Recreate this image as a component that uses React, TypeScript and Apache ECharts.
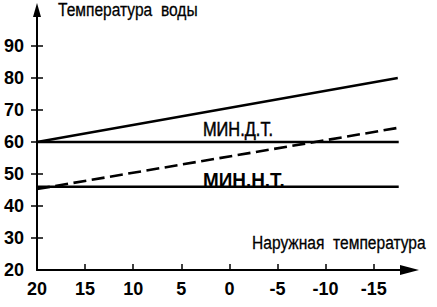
import React, { useEffect, useRef } from "react";
import * as echarts from "echarts";

const xTicks = [20, 15, 10, 5, 0, -5, -10, -15];
const yTicks = [20, 30, 40, 50, 60, 70, 80, 90];
const supplyLine = [[20, 60], [-17.5, 80]];
const dashedLine = [[20, 45.3], [-17.5, 64.4]];
const minDT = [[20, 60], [-17.6, 60]];
const minNT = [[20, 46], [-17.6, 46]];
const labelNames = ["МИН.Д.Т.", "МИН.Н.Т."];
const labelAnchors = [[2.75, 64.2], [2.75, 48.2]];
const yTitle = "Температура  воды";
const xTitle = "Наружная  температура";

const sans = "'Liberation Sans', Arial, sans-serif";
const NARROW = 0.82;

export default function App() {
  const ref = useRef<HTMLDivElement>(null);
  useEffect(() => {
    if (!ref.current) return;
    const chart = echarts.init(ref.current, undefined, { renderer: "svg" });
    chart.setOption({
      animation: false,
      backgroundColor: "#fff",
      grid: { left: 37, right: 27.5, top: 10, bottom: 37 },
      xAxis: {
        type: "value",
        inverse: true,
        min: -18.72,
        max: 20,
        splitLine: { show: false },
        axisLine: { show: true, onZero: false, lineStyle: { color: "#000", width: 2 }, symbol: ["none", "triangle"], symbolSize: [10, 19] },
        axisTick: { show: true, inside: true, length: 6, customValues: xTicks.slice(1), lineStyle: { color: "#000", width: 1.5 } },
        axisLabel: { customValues: xTicks, margin: 10, color: "#000", fontFamily: sans, fontWeight: 700, fontSize: 18 },
      },
      yAxis: [
        {
          type: "value",
          min: 20,
          max: 101.25,
          position: "left",
          splitLine: { show: false },
          axisLine: { show: true, onZero: false, lineStyle: { color: "#000", width: 2 }, symbol: ["none", "triangle"], symbolSize: [8, 14] },
          axisTick: { show: true, inside: false, length: 6, customValues: yTicks.slice(1), lineStyle: { color: "#000", width: 1.5 } },
          axisLabel: { customValues: yTicks, margin: 13, color: "#000", fontFamily: sans, fontWeight: 700, fontSize: 18 },
        },
        {
          type: "value",
          min: 20,
          max: 101.25,
          position: "left",
          splitLine: { show: false },
          axisLine: { show: false, onZero: false },
          axisTick: { show: true, inside: true, length: 6, customValues: yTicks.slice(1), lineStyle: { color: "#000", width: 1.5 } },
          axisLabel: { show: false },
        },
      ],
      series: [
        { type: "line", data: supplyLine, symbol: "none", lineStyle: { color: "#000", width: 2.3 } },
        { type: "line", data: dashedLine, symbol: "none", lineStyle: { color: "#000", width: 2.6, type: [13, 5.5] } },
        { type: "line", data: minDT, symbol: "none", lineStyle: { color: "#000", width: 2.5 } },
        { type: "line", data: minNT, symbol: "none", lineStyle: { color: "#000", width: 2.5 } },
      ],
    });
    const labelFonts = [
      { font: `20px ${sans}`, scaleX: NARROW, stroke: 0.5 },
      { font: `bold 21px ${sans}`, scaleX: 0.9, stroke: 0 },
    ];
    const labelGraphics = labelNames.map((name, i) => {
      const [px, py] = chart.convertToPixel({ gridIndex: 0 }, labelAnchors[i]) as number[];
      return {
        type: "text",
        x: px,
        y: py,
        scaleX: labelFonts[i].scaleX,
        style: {
          text: name,
          fill: "#000",
          font: labelFonts[i].font,
          textAlign: "left",
          textVerticalAlign: "middle",
          stroke: "#000",
          lineWidth: labelFonts[i].stroke,
        },
      };
    });
    chart.setOption({
      graphic: [
        { type: "text", x: 58, y: 0, scaleX: NARROW, style: { text: yTitle, fill: "#000", font: `19px ${sans}`, textVerticalAlign: "top", stroke: "#000", lineWidth: 0.3 } },
        { type: "text", x: 252, y: 233, scaleX: NARROW, style: { text: xTitle, fill: "#000", font: `19px ${sans}`, textVerticalAlign: "top", stroke: "#000", lineWidth: 0.3 } },
        ...labelGraphics,
      ],
    });
    return () => chart.dispose();
  }, []);
  return <div ref={ref} style={{ position: "fixed", left: 0, top: 0, width: 437, height: 307 }} />;
}
